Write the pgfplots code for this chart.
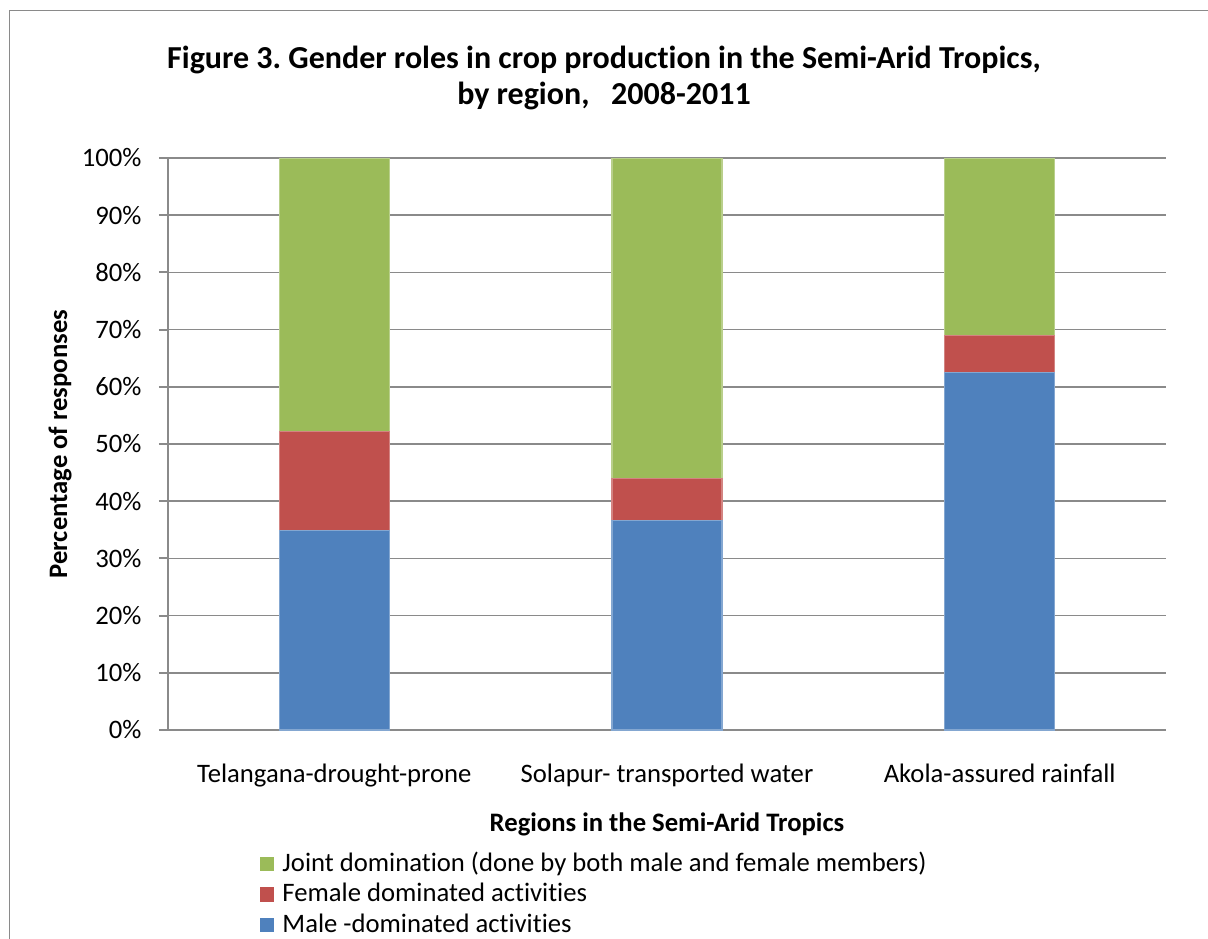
\documentclass[border=0pt]{standalone}
\usepackage{fontspec}
\setmainfont{Carlito}[Ligatures={NoCommon}]
\usepackage{pgfplots}
\pgfplotsset{compat=1.18}
\definecolor{cblue}{HTML}{4F81BD}
\definecolor{cred}{HTML}{C0504D}
\definecolor{cgreen}{HTML}{9BBB59}
\definecolor{gridgray}{HTML}{8A8A8A}
\definecolor{framegray}{HTML}{8A8A8A}

\pgfplotstableread{
x male female joint
0 34.8 17.4 47.8
1 36.7 7.3 56.0
2 62.5 6.5 31.0
}\datatable

\begin{document}
\frenchspacing
\begin{tikzpicture}
\useasboundingbox (0,0) rectangle (453pt,351.75pt);
\begin{scope}[x=0.375pt,y=-0.375pt,shift={(0pt,351.75pt)}]
  \draw[framegray,line width=0.65pt] (9.5,1200) -- (9.5,10.5) -- (1400,10.5);
  \node[anchor=base,font=\fontsize{12}{14.4}\selectfont\bfseries] at (604,68) {Figure 3. Gender roles in crop production in the Semi-Arid Tropics,};
  \node[anchor=base,font=\fontsize{12}{14.4}\selectfont\bfseries] at (604,105) {by region,\ \ \ 2008-2011};
\end{scope}
\begin{axis}[
  at={(63pt,78pt)}, anchor=south west,
  scale only axis, width=374.25pt, height=214.5pt,
  ybar stacked, bar width=41.25pt,
  xmin=-0.5, xmax=2.5, ymin=0, ymax=100,
  xtick=data,
  xticklabels={Telangana-drought-prone, Solapur- transported water, Akola-assured rainfall},
  ytick={0,10,...,100},
  yticklabels={0\%,10\%,20\%,30\%,40\%,50\%,60\%,70\%,80\%,90\%,100\%},
  axis lines*=left,
  axis line style={gridgray,line width=0.7pt},
  tick align=outside,
  major tick length=3.4pt,
  xtick style={draw=none},
  ytick style={gridgray,line width=0.7pt},
  ymajorgrids,
  grid style={gridgray,line width=0.65pt},
  yticklabel style={anchor=east,inner sep=0pt,xshift=-6.35pt},
  xticklabel style={anchor=base,inner sep=0pt,yshift=-16.1pt},
  xlabel={\bfseries Regions in the Semi-Arid Tropics},
  xlabel style={at={(axis description cs:0.5,-0.1783)},anchor=base,inner sep=0pt},
  ylabel={\bfseries Percentage of responses},
  ylabel style={at={(axis description cs:-0.1012,0.5)},anchor=base,inner sep=0pt},
  reverse legend,
  legend cell align=left,
  legend style={at={(axis description cs:0.0912,-0.2068)},anchor=north west,
    draw=none,fill=none,inner sep=0pt,row sep=0pt,
    nodes={inner sep=0pt,text height=8.5pt,text depth=2.9pt}},
  legend image code/.code={\fill[#1,draw=none] (0pt,-2.7pt) rectangle (5.6pt,2.7pt); \path[draw=none,fill=none] (0pt,0pt) rectangle (8.6pt,0.1pt);},
]
\addplot[fill=cblue,draw=cblue!70!white,line width=0.4pt] table[x=x,y=male] {\datatable};
\addlegendentry{Male -dominated activities}
\addplot[fill=cred,draw=cred!70!white,line width=0.4pt] table[x=x,y=female] {\datatable};
\addlegendentry{Female dominated activities}
\addplot[fill=cgreen,draw=cgreen!70!white,line width=0.4pt] table[x=x,y=joint] {\datatable};
\addlegendentry{Joint domination (done by both male and female members)}
\end{axis}
\end{tikzpicture}
\end{document}
